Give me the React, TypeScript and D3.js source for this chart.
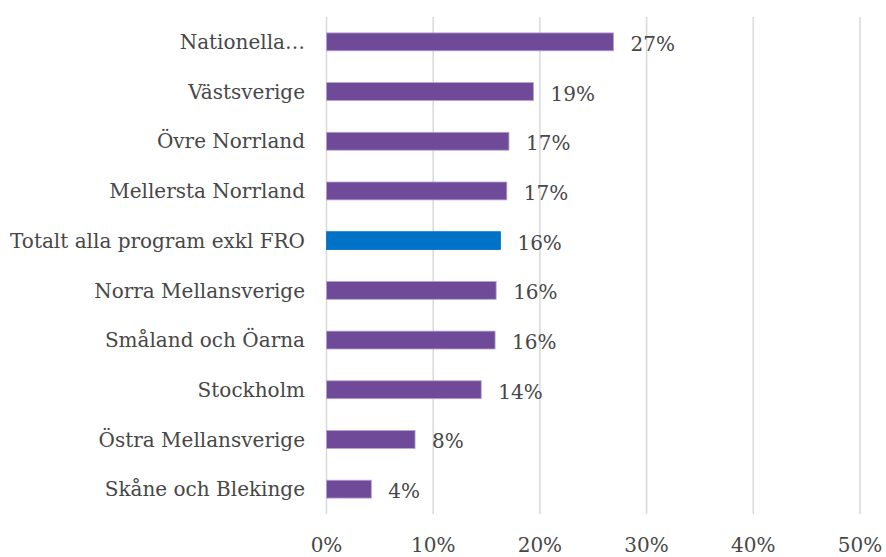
import React from "react";
import * as d3 from "d3";

const categories = [
  "Nationella…",
  "Västsverige",
  "Övre Norrland",
  "Mellersta Norrland",
  "Totalt alla program exkl FRO",
  "Norra Mellansverige",
  "Småland och Öarna",
  "Stockholm",
  "Östra Mellansverige",
  "Skåne och Blekinge",
];
const values = [0.269, 0.194, 0.171, 0.169, 0.163, 0.159, 0.158, 0.145, 0.083, 0.042];
const valueLabels = ["27%", "19%", "17%", "17%", "16%", "16%", "16%", "14%", "8%", "4%"];
const highlighted = ["Totalt alla program exkl FRO"];
const tickValues = [0, 0.1, 0.2, 0.3, 0.4, 0.5];
const tickLabels = ["0%", "10%", "20%", "30%", "40%", "50%"];

const W = 886;
const H = 557;
const FONT = "'DejaVu Serif', 'Liberation Serif', serif";

export default function App() {
  const x = d3.scaleLinear().domain([0, 0.5]).range([326.5, 860]);
  const y = d3.scaleBand().domain(categories).range([17, 514]).paddingInner(0.64).paddingOuter(0.32);
  const text = "#474747";
  return (
    <div style={{ position: "absolute", left: 0, top: 0 }}>
      <svg width={W} height={H} style={{ display: "block", background: "#fff" }}>
        {tickValues.map((t) => (
          <line key={t} x1={x(t)} x2={x(t)} y1={17} y2={514} stroke="#d9d9d9" strokeWidth={1.5} />
        ))}
        {categories.map((c, i) => {
          const hl = highlighted.includes(c);
          const by = y(c)!;
          const bh = y.bandwidth();
          return (
            <g key={c}>
              <rect
                x={x(0)}
                y={by}
                width={x(values[i]) - x(0)}
                height={bh}
                fill={hl ? "#0072c8" : "#6f4a99"}
                stroke={hl ? "#0072c8" : "#b6a2d3"}
                strokeWidth={0.8}
              />
              <text
                x={305}
                y={by + bh / 2}
                dy="0.36em"
                textAnchor="end"
                fontFamily={FONT}
                fontSize={20}
                fill={text}
              >
                {c}
              </text>
              <text
                x={x(values[i]) + 17}
                y={by + bh / 2}
                dy="0.45em"
                fontFamily={FONT}
                fontSize={20}
                fill={text}
              >
                {valueLabels[i]}
              </text>
            </g>
          );
        })}
        {tickValues.map((t, i) => (
          <text
            key={t}
            x={x(t)}
            y={552}
            textAnchor="middle"
            fontFamily={FONT}
            fontSize={20}
            fill={text}
          >
            {tickLabels[i]}
          </text>
        ))}
      </svg>
    </div>
  );
}
